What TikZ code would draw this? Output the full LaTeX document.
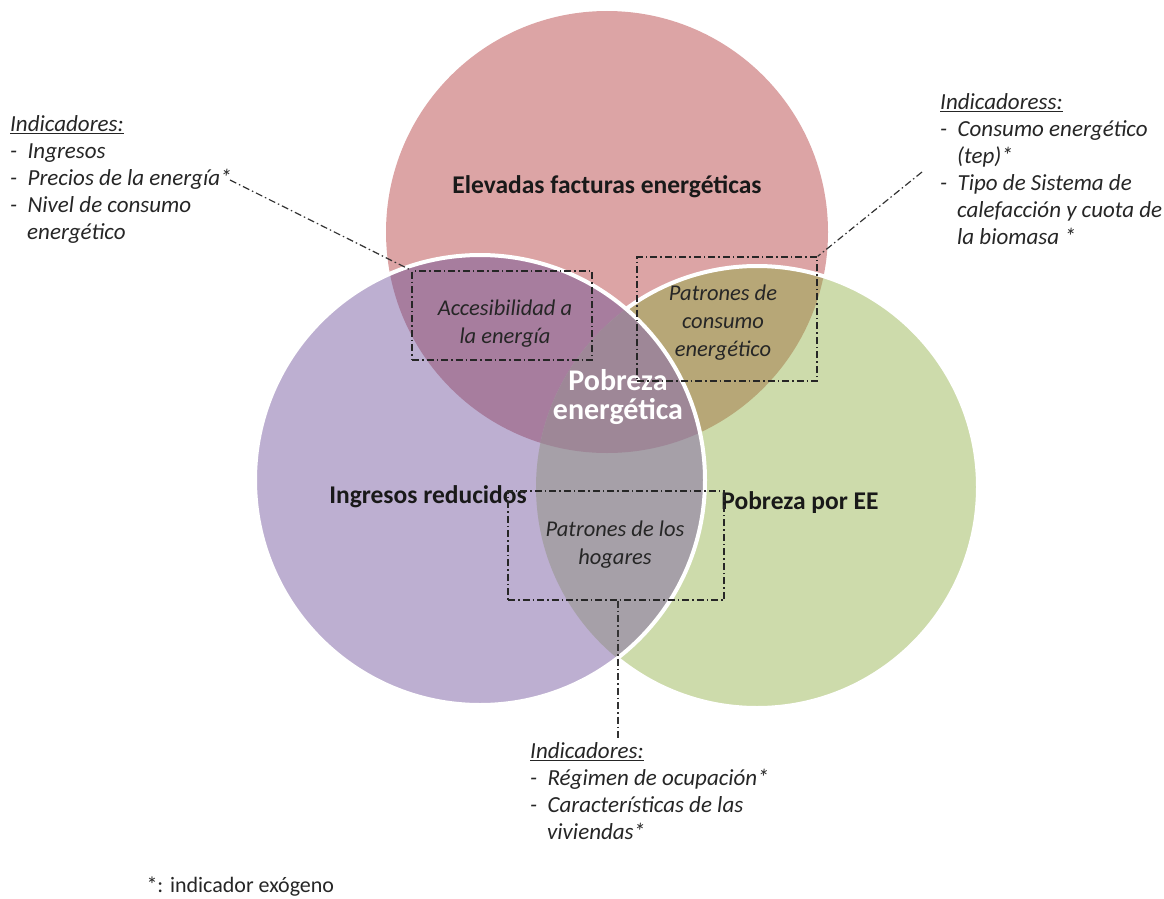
\documentclass[tikz,border=0pt]{standalone}
\usepackage{fontspec}
\setmainfont{Carlito}
\usetikzlibrary{positioning}

\definecolor{rojo}{RGB}{220,164,165}
\definecolor{morado}{RGB}{189,175,209}
\definecolor{verde}{RGB}{205,219,171}
\definecolor{malva}{RGB}{167,125,158}
\definecolor{oliva}{RGB}{183,167,119}
\definecolor{gris}{RGB}{166,160,168}
\definecolor{centro}{RGB}{158,135,151}

\begin{document}
\begin{tikzpicture}[x=1pt, y=-1pt,
    circlelabel/.style={font=\bfseries\fontsize{25.5}{30}\selectfont, text=black!90},
    region/.style={font=\itshape\fontsize{22.5}{28}\selectfont, align=center, text=black!85},
    indbox/.style={draw=black!85, line width=1.3pt, dash pattern=on 7pt off 3pt on 1.5pt off 3pt, minimum width=#1},
    link/.style={draw=black!80, line width=1.2pt, dash pattern=on 7pt off 3pt on 1.5pt off 3pt},
    indicators/.style={font=\itshape\fontsize{23}{27}\selectfont, align=left, anchor=north west, inner sep=0pt, text=black!85},
    whiteline/.style={draw=white, line width=4pt},
  ]
  \useasboundingbox (0,0) rectangle (1164,899);

  % circles
  \fill[rojo] (607,232) circle[radius=221pt];
  \fill[verde] (757,487) circle[radius=221pt];
  \begin{scope}
    \clip (607,232) circle[radius=221pt];
    \fill[oliva] (757,487) circle[radius=221pt];
  \end{scope}
  \draw[whiteline] (757,487) circle[radius=221pt];
  \fill[morado] (480,480) circle[radius=225pt];
  \begin{scope}
    \clip (480,480) circle[radius=225pt];
    \fill[malva] (607,232) circle[radius=221pt];
    \fill[gris] (757,487) circle[radius=221pt];
    \clip (607,232) circle[radius=221pt];
    \fill[centro] (757,487) circle[radius=221pt];
  \end{scope}
  \draw[whiteline] (480,480) circle[radius=225pt];

  \node[circlelabel] (facturas) at (607,187) {Elevadas facturas energéticas};
  \node[circlelabel] (ingresos) at (428,497) {Ingresos reducidos};
  \node[circlelabel] (ee) at (800,503) {Pobreza por EE};
  \node[font=\bfseries\fontsize{30}{29}\selectfont, text=white, align=center] (pobreza) at (618,397) {Pobreza\\energética};

  % overlap boxes
  \node[indbox=180pt, minimum height=89pt] (acc) at (502,315.5) {};
  \node[region] (acctxt) at (505,324) {Accesibilidad a\\la energía};
  \node[indbox=180pt, minimum height=124pt] (pat) at (727,319) {};
  \node[region] (pattxt) at (723,323) {Patrones de\\consumo\\energético};
  \node[indbox=216pt, minimum height=109pt] (hog) at (616,545.5) {};
  \node[region] (hogtxt) at (615,545) {Patrones de los\\hogares};

  % indicators
  \node[indicators] (indizq) at (10,115) {\underline{Indicadores:}\\
    -~ Ingresos\\
    -~ Precios de la energía*\\
    -~ Nivel de consumo\\
    \hspace*{17pt}energético};
  \node[indicators] (indder) at (940,93) {\underline{Indicadoress:}\\
    -~ Consumo energético\\
    \hspace*{17pt}(tep)*\\
    -~ Tipo de Sistema de\\
    \hspace*{17pt}calefacción y cuota de\\
    \hspace*{17pt}la biomasa *};
  \node[indicators] (indinf) at (530,742) {\underline{Indicadores:}\\
    -~ Régimen de ocupación*\\
    -~ Características de las\\
    \hspace*{17pt}viviendas*};

  \coordinate (izqfin) at (230,180);
  \coordinate (derfin) at (922,172);
  \draw[link] (izqfin) -- (acc.north west);
  \draw[link] (derfin) -- (pat.north east);
  \draw[link] (hog.south -| 618,0) -- (618,738);

  \node[font=\fontsize{22}{24}\selectfont, anchor=west, text=black!85] (nota) at (143,887) {*: indicador exógeno};
\end{tikzpicture}
\end{document}
